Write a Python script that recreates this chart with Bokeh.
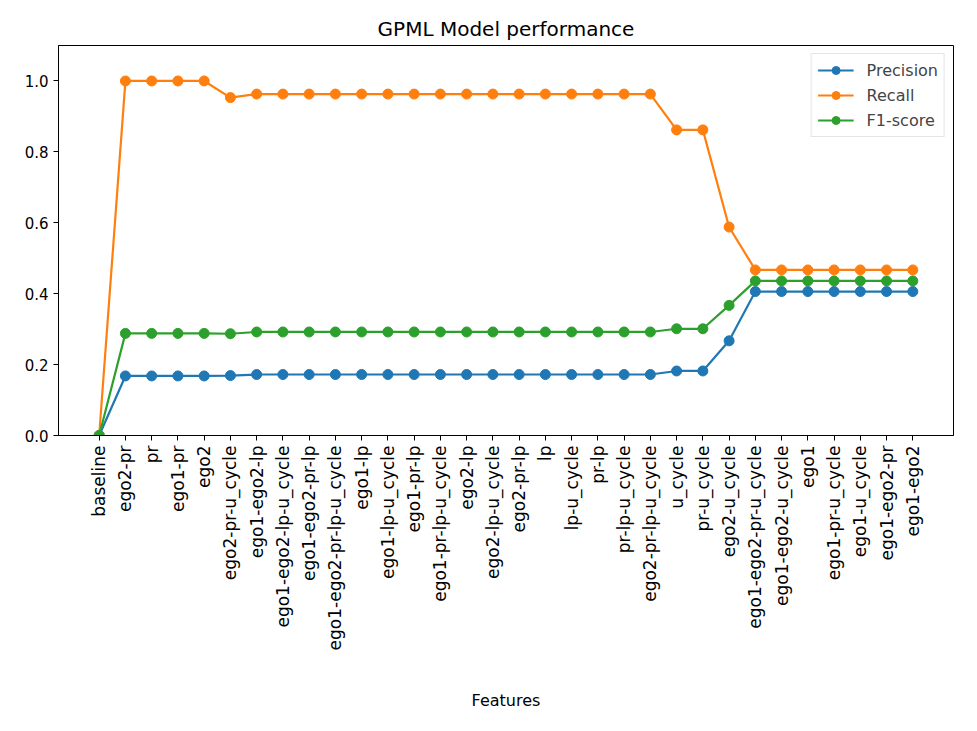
import math
from bokeh.plotting import figure
from bokeh.models import FactorRange, FixedTicker, NumeralTickFormatter, Range1d
from bokeh.embed import file_html
from bokeh.resources import INLINE

features = [
    "baseline", "ego2-pr", "pr", "ego1-pr", "ego2", "ego2-pr-u_cycle",
    "ego1-ego2-lp", "ego1-ego2-lp-u_cycle", "ego1-ego2-pr-lp",
    "ego1-ego2-pr-lp-u_cycle", "ego1-lp", "ego1-lp-u_cycle", "ego1-pr-lp",
    "ego1-pr-lp-u_cycle", "ego2-lp", "ego2-lp-u_cycle", "ego2-pr-lp", "lp",
    "lp-u_cycle", "pr-lp", "pr-lp-u_cycle", "ego2-pr-lp-u_cycle", "u_cycle",
    "pr-u_cycle", "ego2-u_cycle", "ego1-ego2-pr-u_cycle", "ego1-ego2-u_cycle",
    "ego1", "ego1-pr-u_cycle", "ego1-u_cycle", "ego1-ego2-pr", "ego1-ego2",
]

precision = [0.0, 0.168, 0.168, 0.168, 0.168, 0.169,
             0.172, 0.172, 0.172, 0.172, 0.172, 0.172, 0.172, 0.172, 0.172,
             0.172, 0.172, 0.172, 0.172, 0.172, 0.172, 0.172,
             0.182, 0.182, 0.267,
             0.406, 0.406, 0.406, 0.406, 0.406, 0.406, 0.406]
recall = [0.0, 1.0, 1.0, 1.0, 1.0, 0.953,
          0.963, 0.963, 0.963, 0.963, 0.963, 0.963, 0.963, 0.963, 0.963,
          0.963, 0.963, 0.963, 0.963, 0.963, 0.963, 0.963,
          0.862, 0.862, 0.588,
          0.467, 0.467, 0.467, 0.467, 0.467, 0.467, 0.467]
f1 = [0.0, 0.288, 0.288, 0.288, 0.288, 0.287,
      0.292, 0.292, 0.292, 0.292, 0.292, 0.292, 0.292, 0.292, 0.292,
      0.292, 0.292, 0.292, 0.292, 0.292, 0.292, 0.292,
      0.301, 0.301, 0.367,
      0.436, 0.436, 0.436, 0.436, 0.436, 0.436, 0.436]

series = [("Precision", precision, "#1f77b4"),
          ("Recall", recall, "#ff7f0e"),
          ("F1-score", f1, "#2ca02c")]

FONT = "DejaVu Sans"

p = figure(
    width=969, height=723,
    x_range=FactorRange(*features, range_padding=2.1 / 32,
                        range_padding_units="percent"),
    y_range=Range1d(0, 1.1),
    output_backend="svg", toolbar_location=None,
    title="GPML Model performance",
    min_border_left=58, min_border_right=16,
    min_border_top=45, min_border_bottom=288,
)

for name, vals, color in series:
    p.line(features, vals, color=color, line_width=2.2, legend_label=name)
    p.scatter(features, vals, color=color, size=10, legend_label=name)

p.title.align = "center"
p.title.text_font = FONT
p.title.text_font_size = "20px"
p.title.text_font_style = "normal"
p.title.text_color = "black"

p.xgrid.visible = False
p.ygrid.visible = False
p.outline_line_color = "black"
p.outline_line_width = 1
p.background_fill_color = "white"
p.border_fill_color = "white"

for ax in (p.xaxis[0], p.yaxis[0]):
    ax.axis_line_color = "black"
    ax.major_tick_line_color = "black"
    ax.major_tick_out = 5
    ax.major_tick_in = 0
    ax.minor_tick_line_color = None
    ax.major_label_text_font = FONT
    ax.major_label_text_color = "black"
    ax.axis_label_text_font = FONT
    ax.axis_label_text_font_size = "16px"
    ax.axis_label_text_font_style = "normal"
    ax.axis_label_text_color = "black"

p.yaxis[0].major_label_text_font_size = "15px"
p.xaxis[0].major_label_text_font_size = "17px"
p.yaxis[0].ticker = FixedTicker(ticks=[0.0, 0.2, 0.4, 0.6, 0.8, 1.0])
p.yaxis[0].formatter = NumeralTickFormatter(format="0.0")
p.xaxis[0].major_label_orientation = math.pi / 2
p.xaxis[0].axis_label = "Features"
p.xaxis[0].axis_label_standoff = 38

lg = p.legend[0]
lg.location = "top_right"
lg.label_text_font = FONT
lg.label_text_font_size = "16px"
lg.glyph_width = 36
lg.glyph_height = 20
lg.label_height = 20
lg.label_standoff = 13
lg.spacing = 5
lg.padding = 6
lg.margin = 8
lg.border_line_color = "#cccccc"
lg.border_line_width = 1
lg.background_fill_alpha = 0.8

open("out.html", "w").write(file_html(p, INLINE))
